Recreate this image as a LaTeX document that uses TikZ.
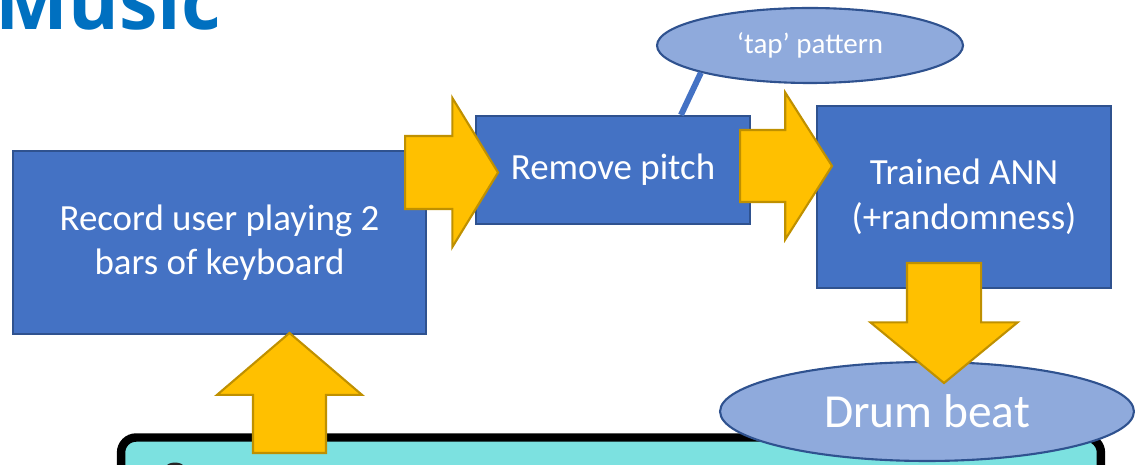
\documentclass[tikz,border=0pt]{standalone}
\usepackage{fontspec}
\setmainfont{Carlito}
\newfontfamily\titlefont{Open Sans}
\usetikzlibrary{
  shapes.arrows,
  shapes.geometric,
  positioning,
  backgrounds
}
\definecolor{boxblue}{HTML}{4472C4}
\definecolor{boxedge}{HTML}{2F528F}
\definecolor{bubblefill}{HTML}{8FAADC}
\definecolor{gold}{HTML}{FFC000}
\definecolor{goldedge}{HTML}{BF9000}
\definecolor{kbteal}{HTML}{7CE1E0}
\definecolor{titleblue}{HTML}{0070C0}

\begin{document}
\begin{tikzpicture}[
      x=0.02cm, y=-0.02cm,
      process/.style={
         rectangle,
         draw=boxedge,
         line width=1.2pt,
         fill=boxblue,
         text=white,
         align=center,
         inner sep=0pt,
         font=\fontsize{21}{25}\selectfont
      },
      bubble/.style={
         ellipse,
         draw=boxedge,
         line width=1.2pt,
         fill=bubblefill,
         text=white,
         inner sep=0pt
      },
      fat arrow/.style={
         single arrow,
         draw=goldedge,
         line width=1.2pt,
         fill=gold,
         inner sep=0pt,
         anchor=tail
      },
      %text height=1.5ex,text depth=.25ex
    ]
    \useasboundingbox (0,0) rectangle (1135,465);
    \clip (0,0) rectangle (1135,465);

    \node (title) [anchor=base west, inner sep=0pt, text=titleblue,
       font=\titlefont\bfseries\fontsize{44}{44}\selectfont] at (-5,30) {Music};

    % keyboard panel, cut off at the bottom
    \node (n6) [draw=black, line width=4.8pt, fill=kbteal, rounded corners=0.3cm,
       minimum width=19.6cm, minimum height=2.42cm, inner sep=0pt] at (611,498) {};
    \draw[black!85, line width=1.7pt] (175,478) circle [radius=0.28cm];

    \node (n1) [process, minimum width=8.26cm, minimum height=3.66cm] at (219.5,242.5)
       {Record user playing 2\\bars of keyboard};
    \node (n2) [process, minimum width=5.48cm, minimum height=2.16cm] at (613,170)
       {Remove pitch};
    \node (n3) [process, minimum width=5.88cm, minimum height=3.64cm, font=\fontsize{21}{25.5}\selectfont] at (964,197)
       {Trained ANN\\(+randomness)};
    \node (n4) [bubble, minimum width=6.12cm, minimum height=1.5cm,
       font=\fontsize{16.5}{20}\selectfont] at (810,45.5) {‘tap’ pattern};
    \node (n5) [bubble, minimum width=8.28cm, minimum height=1.98cm,
       font=\fontsize{27}{32}\selectfont] at (927,411.5) {Drum beat};

    \draw[boxblue, line width=3.4pt] (n4.194) -- (n2.39);

    \node (a1) [fat arrow, inner ysep=0.71cm, minimum height=1.86cm,
       single arrow head extend=0.76cm, single arrow tip angle=117] at (404,172.5) {};
    \node (a2) [fat arrow, inner ysep=0.70cm, minimum height=1.84cm,
       single arrow head extend=0.75cm, single arrow tip angle=115] at (739,166) {};
    \node (a3) [fat arrow, shape border rotate=270, inner xsep=0.72cm, minimum height=2.4cm,
       single arrow head extend=0.73cm, single arrow tip angle=101] at (944,262) {};
    \node (a4) [fat arrow, shape border rotate=90, inner xsep=0.71cm, minimum height=2.4cm,
       single arrow head extend=0.72cm, single arrow tip angle=99] at (289.5,454) {};
\end{tikzpicture}
\end{document}
